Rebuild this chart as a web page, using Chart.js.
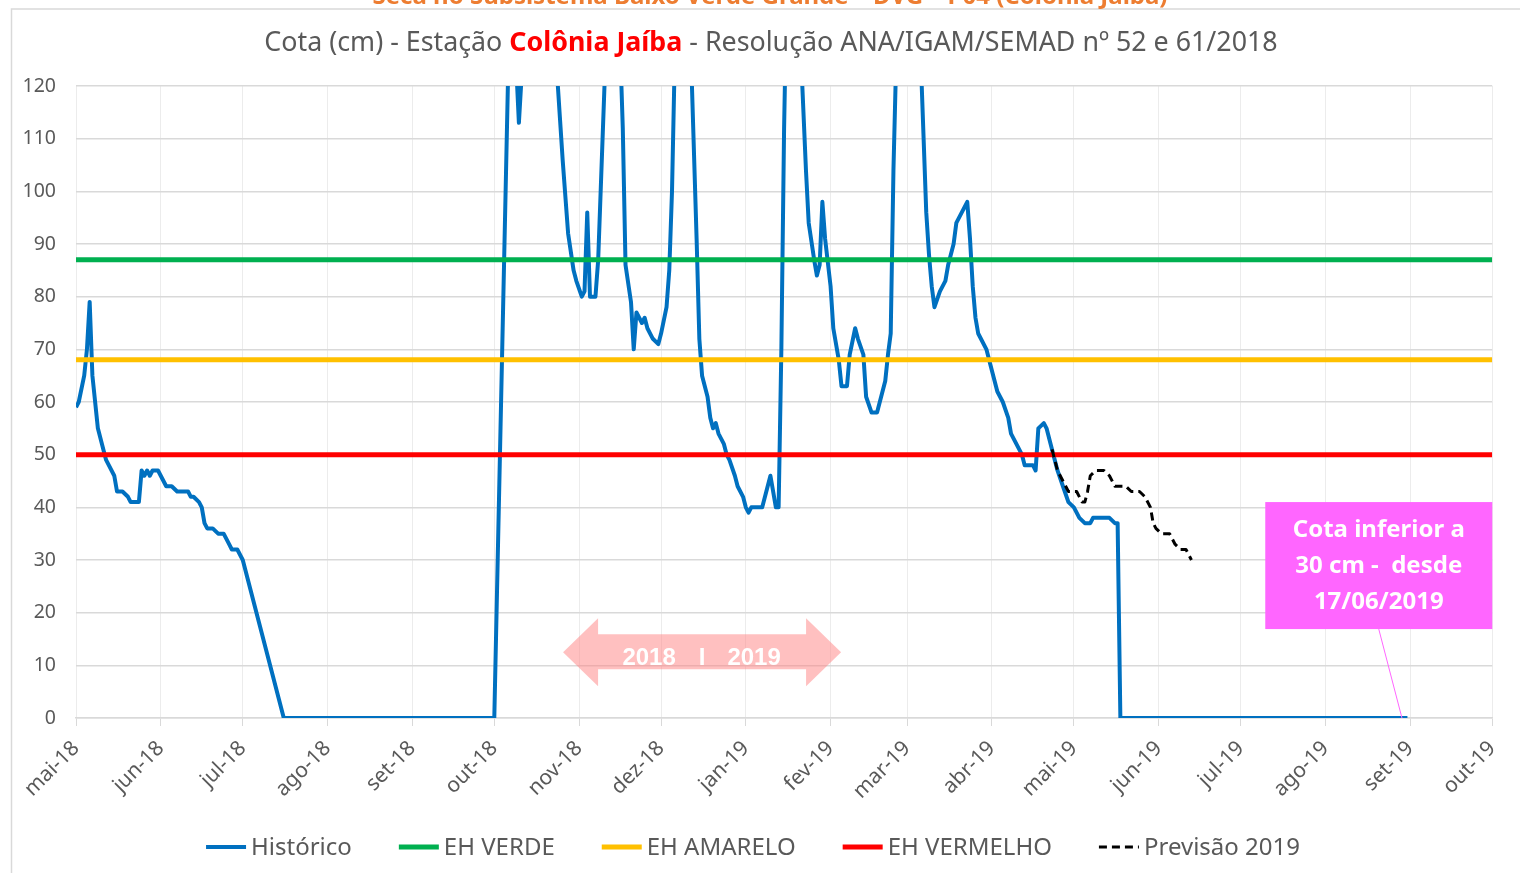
<!DOCTYPE html>
<html lang="pt-BR">
<head>
<meta charset="utf-8">
<title>Cota - Estação Colônia Jaíba</title>
<script src="https://cdn.jsdelivr.net/npm/chart.js@4.4.1/dist/chart.umd.min.js"></script>
<style>
  html, body { margin: 0; padding: 0; background: #fff; }
  #wrap { width: 1520px; height: 873px; }
</style>
</head>
<body>
<div id="wrap"><canvas id="grafico" width="1520" height="873"></canvas></div>
<script>
// eixo x em dias desde 01/05/2018
var meses = ['mai-18', 'jun-18', 'jul-18', 'ago-18', 'set-18', 'out-18', 'nov-18', 'dez-18', 'jan-19',
             'fev-19', 'mar-19', 'abr-19', 'mai-19', 'jun-19', 'jul-19', 'ago-19', 'set-19', 'out-19'];
var inicioMes = [0, 31, 61, 92, 123, 153, 184, 214, 245, 276, 304, 335, 365, 396, 426, 457, 488, 518];

// Histórico (cota em cm)
var diasHistorico = [0, 1, 3, 4, 5, 6, 8, 10, 11, 14, 15, 17, 19, 20, 23, 24, 25, 26, 27, 28, 30, 31, 33, 35, 37,
  41, 42, 43, 45, 46, 47, 48, 50, 52, 54, 56, 57, 59, 61, 76, 153, 159, 160, 161, 162, 163, 164, 170, 176, 177,
  178, 180, 182, 183, 185, 186, 187, 188, 190, 191, 194, 197, 200, 201, 203, 204, 205, 206, 207, 208, 209, 211,
  213, 214, 216, 217, 218, 219, 222, 225, 227, 228, 229, 231, 232, 233, 234, 235, 237, 238, 239, 241, 242, 244,
  245, 246, 247, 251, 252, 254, 256, 257, 258, 259, 260, 262, 265, 267, 268, 270, 271, 272, 273, 274, 276, 277,
  279, 280, 282, 283, 285, 286, 288, 289, 291, 293, 294, 295, 296, 297, 298, 299, 300, 305, 309, 311, 312, 313,
  314, 316, 318, 319, 321, 322, 324, 326, 327, 328, 329, 330, 333, 335, 337, 339, 341, 342, 344, 346, 347, 350,
  351, 352, 354, 355, 357, 359, 361, 363, 365, 367, 369, 371, 372, 378, 380, 381, 382, 487];
var historico = [59, 60, 65, 70, 79, 65, 55, 51, 49, 46, 43, 43, 42, 41, 41, 47, 46, 47, 46, 47, 47, 46, 44, 44, 43,
  43, 42, 42, 41, 40, 37, 36, 36, 35, 35, 33, 32, 32, 30, 0, 0, 145, 135, 124, 113, 122, 140, 160, 122, 114,
  106, 92, 85, 83, 80, 81, 96, 80, 80, 87, 130, 160, 112, 86, 79, 70, 77, 76, 75, 76, 74, 72,
  71, 73, 78, 85, 100, 125, 170, 125, 91, 72, 65, 61, 57, 55, 56, 54, 52, 50, 49, 46, 44, 42,
  40, 39, 40, 40, 42, 46, 40, 40, 70, 112, 140, 175, 128, 104, 94, 87, 84, 86, 98, 91, 82, 74,
  68, 63, 63, 69, 74, 72, 69, 61, 58, 58, 60, 62, 64, 69, 73, 104, 125, 180, 125, 96, 88, 82,
  78, 81, 83, 86, 90, 94, 96, 98, 91, 82, 76, 73, 70, 66, 62, 60, 57, 54, 52, 50, 48, 48,
  47, 55, 56, 55, 51, 47, 44, 41, 40, 38, 37, 37, 38, 38, 37, 37, 0, 0];

// Previsão 2019
var diasPrevisao = [357, 359, 361, 363, 366, 368, 369, 370, 371, 373, 375, 376, 378, 380, 381, 384, 386, 389,
  391, 393, 394, 395, 397, 400, 402, 404, 406, 407, 408];
var previsao = [51, 47, 45, 43, 43, 41, 41, 43, 46, 47, 47, 47, 46, 44, 44, 44, 43, 43,
  42, 40, 37, 36, 35, 35, 33, 32, 32, 31, 30];

// estados hidrológicos (cm)
var ehVerde = 87;
var ehAmarelo = 68;
var ehVermelho = 50;

function pares(xs, ys) {
    return xs.map(function (x, i) { return { x: x, y: ys[i] }; });
}
function nivel(v) {
    return [{ x: inicioMes[0], y: v }, { x: inicioMes[inicioMes.length - 1], y: v }];
}

var cinza = '#595959';
var fonte = 'Noto Sans';

// moldura, título cortado no topo e título principal
var molduraPlugin = {
    id: 'moldura',
    beforeDraw: function (chart) {
        var ctx = chart.ctx;
        ctx.save();
        ctx.fillStyle = '#fff';
        ctx.fillRect(0, 0, chart.width, chart.height);
        ctx.strokeStyle = '#d9d9d9';
        ctx.lineWidth = 1.5;
        ctx.beginPath();
        ctx.moveTo(11.5, chart.height);
        ctx.lineTo(11.5, 9);
        ctx.lineTo(chart.width, 9);
        ctx.stroke();

        ctx.fillStyle = '#ED7D31';
        ctx.font = 'bold 24px "' + fonte + '"';
        ctx.textAlign = 'center';
        ctx.textBaseline = 'alphabetic';
        ctx.fillText('Seca no Subsistema Baixo Verde Grande – DVG – P04 (Colônia Jaíba)', 770, 4);

        var partes = [
            ['Cota (cm) - Estação ', cinza, ''],
            ['Colônia Jaíba', '#FF0000', 'bold '],
            [' - Resolução ANA/IGAM/SEMAD nº 52 e 61/2018', cinza, '']
        ];
        var total = 0;
        partes.forEach(function (p) {
            ctx.font = p[2] + '26.8px "' + fonte + '"';
            p.push(ctx.measureText(p[0]).width);
            total += p[3];
        });
        var x = 771 - total / 2;
        ctx.textAlign = 'left';
        ctx.textBaseline = 'middle';
        partes.forEach(function (p) {
            ctx.font = p[2] + '26.8px "' + fonte + '"';
            ctx.fillStyle = p[1];
            ctx.fillText(p[0], x, 43);
            x += p[3];
        });
        ctx.restore();
    }
};

// legenda desenhada à mão (espaçamento igual ao do original)
var legendaPlugin = {
    id: 'legenda',
    afterDraw: function (chart) {
        var ctx = chart.ctx;
        var dss = chart.data.datasets;
        ctx.save();
        ctx.font = '24px "' + fonte + '"';
        var larg = dss.map(function (ds) { return 40 + 5 + ctx.measureText(ds.label).width; });
        var total = larg.reduce(function (a, b) { return a + b; }, 0) + 47 * (dss.length - 1);
        var x = 753 - total / 2, y = 847;
        ctx.textBaseline = 'middle';
        ctx.textAlign = 'left';
        dss.forEach(function (ds, i) {
            ctx.strokeStyle = ds.borderColor;
            ctx.lineWidth = ds.borderWidth;
            ctx.setLineDash(ds.borderDash || []);
            ctx.beginPath();
            ctx.moveTo(x, y);
            ctx.lineTo(x + 40, y);
            ctx.stroke();
            ctx.setLineDash([]);
            ctx.fillStyle = cinza;
            ctx.fillText(ds.label, x + 45, y + 1);
            x += larg[i] + 47;
        });
        ctx.restore();
    }
};

// seta 2018 | 2019 e caixa de aviso
var anotacoesPlugin = {
    id: 'anotacoes',
    afterDatasetsDraw: function (chart) {
        var ctx = chart.ctx;
        var sx = chart.scales.x, sy = chart.scales.y;
        ctx.save();

        var cx = sx.getPixelForValue(229), cy = sy.getPixelForValue(12.5);
        ctx.fillStyle = 'rgba(255, 130, 130, 0.5)';
        ctx.beginPath();
        ctx.moveTo(cx - 139, cy);
        ctx.lineTo(cx - 104, cy - 34);
        ctx.lineTo(cx - 104, cy - 18);
        ctx.lineTo(cx + 104, cy - 18);
        ctx.lineTo(cx + 104, cy - 34);
        ctx.lineTo(cx + 139, cy);
        ctx.lineTo(cx + 104, cy + 34);
        ctx.lineTo(cx + 104, cy + 17);
        ctx.lineTo(cx - 104, cy + 17);
        ctx.lineTo(cx - 104, cy + 34);
        ctx.closePath();
        ctx.fill();
        ctx.fillStyle = '#fff';
        ctx.font = 'bold 24px "Liberation Sans"';
        ctx.textAlign = 'center';
        ctx.textBaseline = 'middle';
        ctx.fillText('2018', cx - 53, cy + 6);
        ctx.fillText('I', cx, cy + 6);
        ctx.fillText('2019', cx + 52, cy + 6);

        var bx = sx.getPixelForValue(435), by = sy.getPixelForValue(41);
        var bw = 227, bh = 127;
        ctx.strokeStyle = '#FF66FF';
        ctx.lineWidth = 1;
        ctx.beginPath();
        ctx.moveTo(bx + bw / 2, by + bh);
        ctx.lineTo(sx.getPixelForValue(485), sy.getPixelForValue(0));
        ctx.stroke();
        ctx.fillStyle = '#FF66FF';
        ctx.fillRect(bx, by, bw, bh);
        ctx.fillStyle = '#fff';
        ctx.font = 'bold 24px "' + fonte + '"';
        ['Cota inferior a', '30 cm -  desde', '17/06/2019'].forEach(function (t, i) {
            ctx.fillText(t, bx + bw / 2, by + 28 + i * 36);
        });
        ctx.restore();
    }
};

var ctx = document.getElementById('grafico').getContext('2d');
var grafico = new Chart(ctx, {
    type: 'line',
    data: {
        datasets: [{
            label: 'Histórico',
            data: pares(diasHistorico, historico),
            borderColor: '#0070C0',
            borderWidth: 4,
            order: 5
        }, {
            label: 'EH VERDE',
            data: nivel(ehVerde),
            borderColor: '#00B050',
            borderWidth: 5,
            order: 4
        }, {
            label: 'EH AMARELO',
            data: nivel(ehAmarelo),
            borderColor: '#FFC000',
            borderWidth: 5,
            order: 3
        }, {
            label: 'EH VERMELHO',
            data: nivel(ehVermelho),
            borderColor: '#FF0000',
            borderWidth: 5,
            order: 2
        }, {
            label: 'Previsão 2019',
            data: pares(diasPrevisao, previsao),
            borderColor: '#000000',
            borderWidth: 3,
            borderDash: [8, 5],
            order: 1
        }]
    },
    options: {
        responsive: false,
        animation: false,
        events: [],
        layout: { padding: { top: 86, left: 10, right: 24, bottom: 0 } },
        elements: {
            point: { radius: 0 },
            line: { tension: 0, borderJoinStyle: 'round', borderCapStyle: 'butt' }
        },
        scales: {
            x: {
                type: 'linear',
                min: inicioMes[0],
                max: inicioMes[inicioMes.length - 1],
                afterBuildTicks: function (scale) {
                    scale.ticks = inicioMes.map(function (v) { return { value: v }; });
                },
                afterFit: function (scale) { scale.height = 155; },
                ticks: {
                    autoSkip: false,
                    minRotation: 45,
                    maxRotation: 45,
                    color: cinza,
                    font: { family: fonte, size: 21 },
                    padding: 10,
                    callback: function (v) { return meses[inicioMes.indexOf(v)]; }
                },
                grid: { color: '#ececec', tickColor: '#d9d9d9', tickLength: 8 },
                border: { color: '#d9d9d9', width: 1.5 }
            },
            y: {
                min: 0,
                max: 120,
                afterFit: function (scale) { scale.width = 66; },
                ticks: {
                    stepSize: 10,
                    color: cinza,
                    font: { family: fonte, size: 19.5 },
                    padding: 20
                },
                grid: { color: '#d9d9d9', drawTicks: false, lineWidth: 1.5 },
                border: { display: false }
            }
        },
        plugins: {
            title: { display: false },
            legend: { display: false },
            tooltip: { enabled: false }
        }
    },
    plugins: [molduraPlugin, anotacoesPlugin, legendaPlugin]
});
</script>
</body>
</html>
